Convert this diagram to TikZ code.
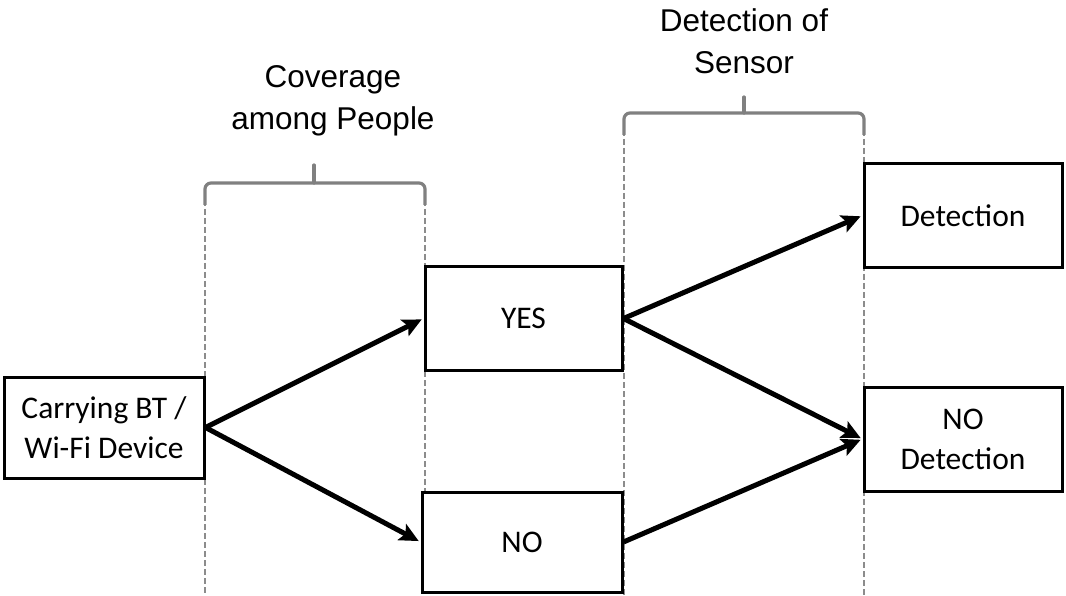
\documentclass[tikz,border=0pt]{standalone}
\usepackage{fontspec}
\setmainfont{Carlito}
\newfontfamily\headfont{Liberation Sans}
\usetikzlibrary{arrows.meta}
\begin{document}
\begin{tikzpicture}[x=1pt,y=-1pt,
  box/.style={draw=black,line width=3pt,fill=white,inner sep=0pt,align=center,
    font=\fontsize{31.5}{40}\selectfont},
  arr/.style={line width=5pt,-{Stealth[length=19pt,width=18pt,inset=4pt]},shorten >=2pt},
  guide/.style={draw=gray!90,line width=1.8pt,dash pattern=on 6pt off 3pt},
  brace/.style={draw=gray,line width=3.2pt,rounded corners=6pt},
  head/.style={font=\headfont\fontsize{31.5}{42}\selectfont,align=center}]
\useasboundingbox (0,0) rectangle (1066,596);
% guides
\draw[guide] (205,200) -- (205,596);
\draw[guide] (425,200) -- (425,596);
\draw[guide] (624,130) -- (624,596);
\draw[guide] (864,130) -- (864,596);
% braces
\draw[brace] (205,205) |- (314,183);
\draw[brace] (425,205) |- (314,183);
\draw[brace,rounded corners=0pt,line cap=round] (314,183) -- (314,165);
\draw[brace] (624,135) |- (744,113);
\draw[brace] (864,135) |- (744,113);
\draw[brace,rounded corners=0pt,line cap=round] (744,113) -- (744,97);
% headings
\node[head] (hcov) at (333,101) {Coverage\\among People};
\node[head] (hdet) at (744,41) {Detection of\\Sensor};
% boxes
\node[box,minimum width=200pt,minimum height=101pt] (carry) at (104,427.5) {Carrying BT /\\Wi-Fi Device};
\node[box,minimum width=197pt,minimum height=103pt] (yes) at (523.5,318.5) {YES};
\node[box,minimum width=200pt,minimum height=100pt] (no) at (522,542) {NO};
\node[box,minimum width=198pt,minimum height=104pt] (det) at (963,215.5) {Detection};
\node[box,minimum width=198pt,minimum height=104pt] (nodet) at (963,439) {NO\\Detection};
% arrows
\draw[arr] (carry.east) -- (yes.west);
\draw[arr] (carry.east) -- (no.west);
\draw[arr] (yes.east) -- (det.west);
\draw[arr] (yes.east) -- (nodet.west);
\draw[arr] (no.east) -- (nodet.west);
\end{tikzpicture}
\end{document}
